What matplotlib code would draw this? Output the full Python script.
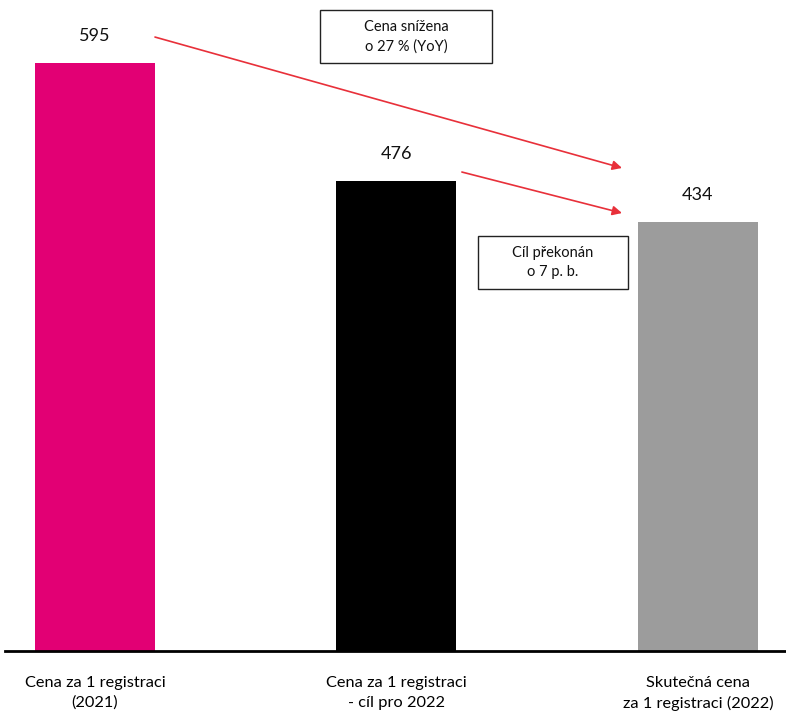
import matplotlib
matplotlib.use("Agg")
import matplotlib.pyplot as plt
from matplotlib.patches import Rectangle

plt.rcParams['font.family'] = ['Lato', 'DejaVu Sans']

categories = ["Cena za 1 registraci\n(2021)",
              "Cena za 1 registraci\n- cíl pro 2022",
              "Skutečná cena\nza 1 registraci (2022)"]
values = [595, 476, 434]
colors = ["#E20074", "#000000", "#9C9C9C"]

W, H = 786, 713
fig = plt.figure(figsize=(W / 100, H / 100), dpi=100)
ax = fig.add_axes([5 / W, (H - 651) / H, 1 - 5 / W, 651 / H])

x = list(range(len(values)))
ax.bar(x, values, width=0.398, color=colors, zorder=2)
ax.set_xlim(-0.2985, 2.292)
ax.set_ylim(0, 658.8)

for xi, v in zip(x, values):
    ax.text(xi, v + 27, str(v), ha="center", va="center", fontsize=13, color="#111111")

for s in ["top", "right", "left"]:
    ax.spines[s].set_visible(False)
ax.spines["bottom"].set_linewidth(2)
ax.set_yticks([])
ax.set_xticks(x)
ax.set_xticklabels(categories, fontsize=11.8, linespacing=1.5)
ax.tick_params(axis="x", length=0, pad=18)

red = "#E8303A"
arrow = dict(arrowstyle="-|>", color=red, lw=1.2, mutation_scale=14, shrinkA=0, shrinkB=0)
ax.annotate("", xy=(1.748, 488.8), xytext=(0.199, 621.3), arrowprops=arrow, annotation_clip=False)
ax.annotate("", xy=(1.748, 443.2), xytext=(1.217, 484.7), arrowprops=arrow, annotation_clip=False)

# labelled boxes
def box(cx, cy, w, h, text):
    ax.add_patch(Rectangle((cx - w / 2, cy - h / 2), w, h, facecolor="white",
                           edgecolor="#222222", lw=1, clip_on=False, zorder=3))
    ax.text(cx, cy, text, ha="center", va="center", fontsize=10.5,
            linespacing=1.45, zorder=4, color="#111111")

box(1.0315, 621.8, 172 / 301.5, 53 / 0.9882, "Cena snížena\no 27 % (YoY)")
box(1.519, 393.1, 150 / 301.5, 53 / 0.9882, "Cíl překonán\no 7 p. b.")

fig.savefig("out.png", dpi=100)
